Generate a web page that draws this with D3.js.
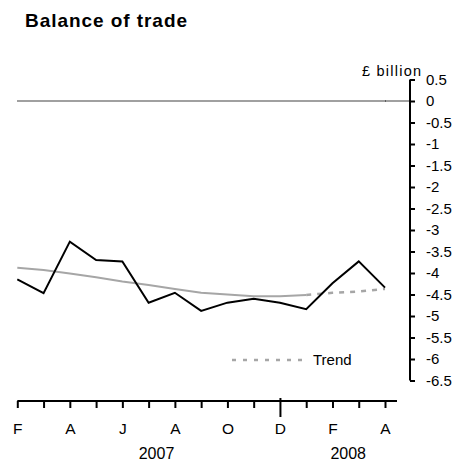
<!DOCTYPE html>
<html><head><meta charset="utf-8">
<script src="https://cdn.jsdelivr.net/npm/d3@7"></script>
<style>body{margin:0;background:#fff}svg{display:block;font-family:Arial,"Liberation Sans",sans-serif}</style>
</head><body>
<svg id="c" width="470" height="460"></svg>
<script>
const months = ["F","M","A","M","J","J","A","S","O","N","D","J","F","M","A"];
const balance = [-4.15,-4.47,-3.27,-3.70,-3.73,-4.69,-4.46,-4.88,-4.69,-4.60,-4.69,-4.84,-4.24,-3.73,-4.34];
const trend = [-3.88,-3.93,-4.01,-4.10,-4.20,-4.28,-4.37,-4.46,-4.50,-4.54,-4.54,-4.51,null,null,null];
const trendProjected = [null,null,null,null,null,null,null,null,null,null,null,-4.51,-4.46,-4.43,-4.37];
const yTicks = [0.5,0,-0.5,-1,-1.5,-2,-2.5,-3,-3.5,-4,-4.5,-5,-5.5,-6,-6.5];
const yearLabels = [{label:"2007", at:5.3},{label:"2008", at:12.6}];

const svg = d3.select("#c");
const x = d3.scaleLinear().domain([0,14]).range([17.3,385]);
const y = d3.scaleLinear().domain([0.5,-6.5]).range([79.5,380.5]);
const axisX = 410;
const FONT = "Arial,'Liberation Sans',sans-serif";

// title
svg.append("text").attr("x",25).attr("y",27).attr("font-size",19).attr("font-weight","bold")
  .attr("textLength",162).attr("lengthAdjust","spacing").text("Balance of trade");

// zero line
svg.append("line").attr("x1",17).attr("x2",axisX).attr("y1",y(0)).attr("y2",y(0))
  .attr("stroke","#808080").attr("stroke-width",1.3);
svg.append("line").attr("x1",x(14)).attr("x2",x(14)+0.8).attr("y1",y(0)).attr("y2",y(0))
  .attr("stroke","#333").attr("stroke-width",1.3);

// y axis
const yAxis = d3.axisRight(y).tickValues(yTicks).tickSize(5).tickPadding(11)
  .tickFormat(d => String(d));
const gy = svg.append("g").attr("transform",`translate(${axisX},0)`).call(yAxis);
gy.select(".domain").attr("d",`M0,${y(0.5)}V${y(-6.5)}`).attr("stroke","#000").attr("stroke-width",2);
gy.selectAll(".tick line").attr("stroke","#000").attr("stroke-width",2).attr("x1",0).attr("x2",5);
gy.selectAll(".tick text").attr("font-size",15).attr("fill","#000").attr("font-family",FONT);
svg.append("text").attr("x",362).attr("y",76).attr("font-size",14.5)
  .attr("textLength",59).attr("lengthAdjust","spacing").text("£ billion");

// x axis
const axisY = 401;
const xAxis = d3.axisBottom(x).tickValues(d3.range(15)).tickSize(7).tickPadding(15)
  .tickFormat((d,i) => i % 2 === 0 ? months[i] : "");
const gx = svg.append("g").attr("transform",`translate(0,${axisY})`).call(xAxis);
gx.select(".domain").attr("d",`M${x(0)},0H397`).attr("stroke","#000").attr("stroke-width",2);
gx.selectAll(".tick line").attr("stroke","#000").attr("stroke-width",2)
  .attr("y1",(d)=> d===10 ? -3 : 0).attr("y2",(d)=> d===10 ? 16 : 7);
gx.selectAll(".tick text").attr("font-size",15.5).attr("fill","#000").attr("font-family",FONT);
svg.selectAll(".year").data(yearLabels).enter().append("text").attr("class","year")
  .attr("x",d=>x(d.at)).attr("y",458.5).attr("text-anchor","middle").attr("font-size",16).text(d=>d.label);

// lines
const line = d3.line().defined(d=>d!=null).x((d,i)=>x(i)).y(d=>y(d));
svg.append("path").datum(trend).attr("d",line).attr("fill","none").attr("stroke","#a6a6a6").attr("stroke-width",2);
svg.append("path").datum(trendProjected).attr("d",line).attr("fill","none").attr("stroke","#a6a6a6").attr("stroke-width",2.5).attr("stroke-dasharray","5,6");
svg.append("path").datum(balance).attr("d",line).attr("fill","none").attr("stroke","#000").attr("stroke-width",2).attr("stroke-linejoin","miter");

// legend
svg.append("line").attr("x1",232).attr("x2",308).attr("y1",360).attr("y2",360).attr("stroke","#a6a6a6").attr("stroke-width",2.5).attr("stroke-dasharray","4,7");
svg.append("text").attr("x",313).attr("y",365).attr("font-size",15).text("Trend");
</script>
</body></html>
